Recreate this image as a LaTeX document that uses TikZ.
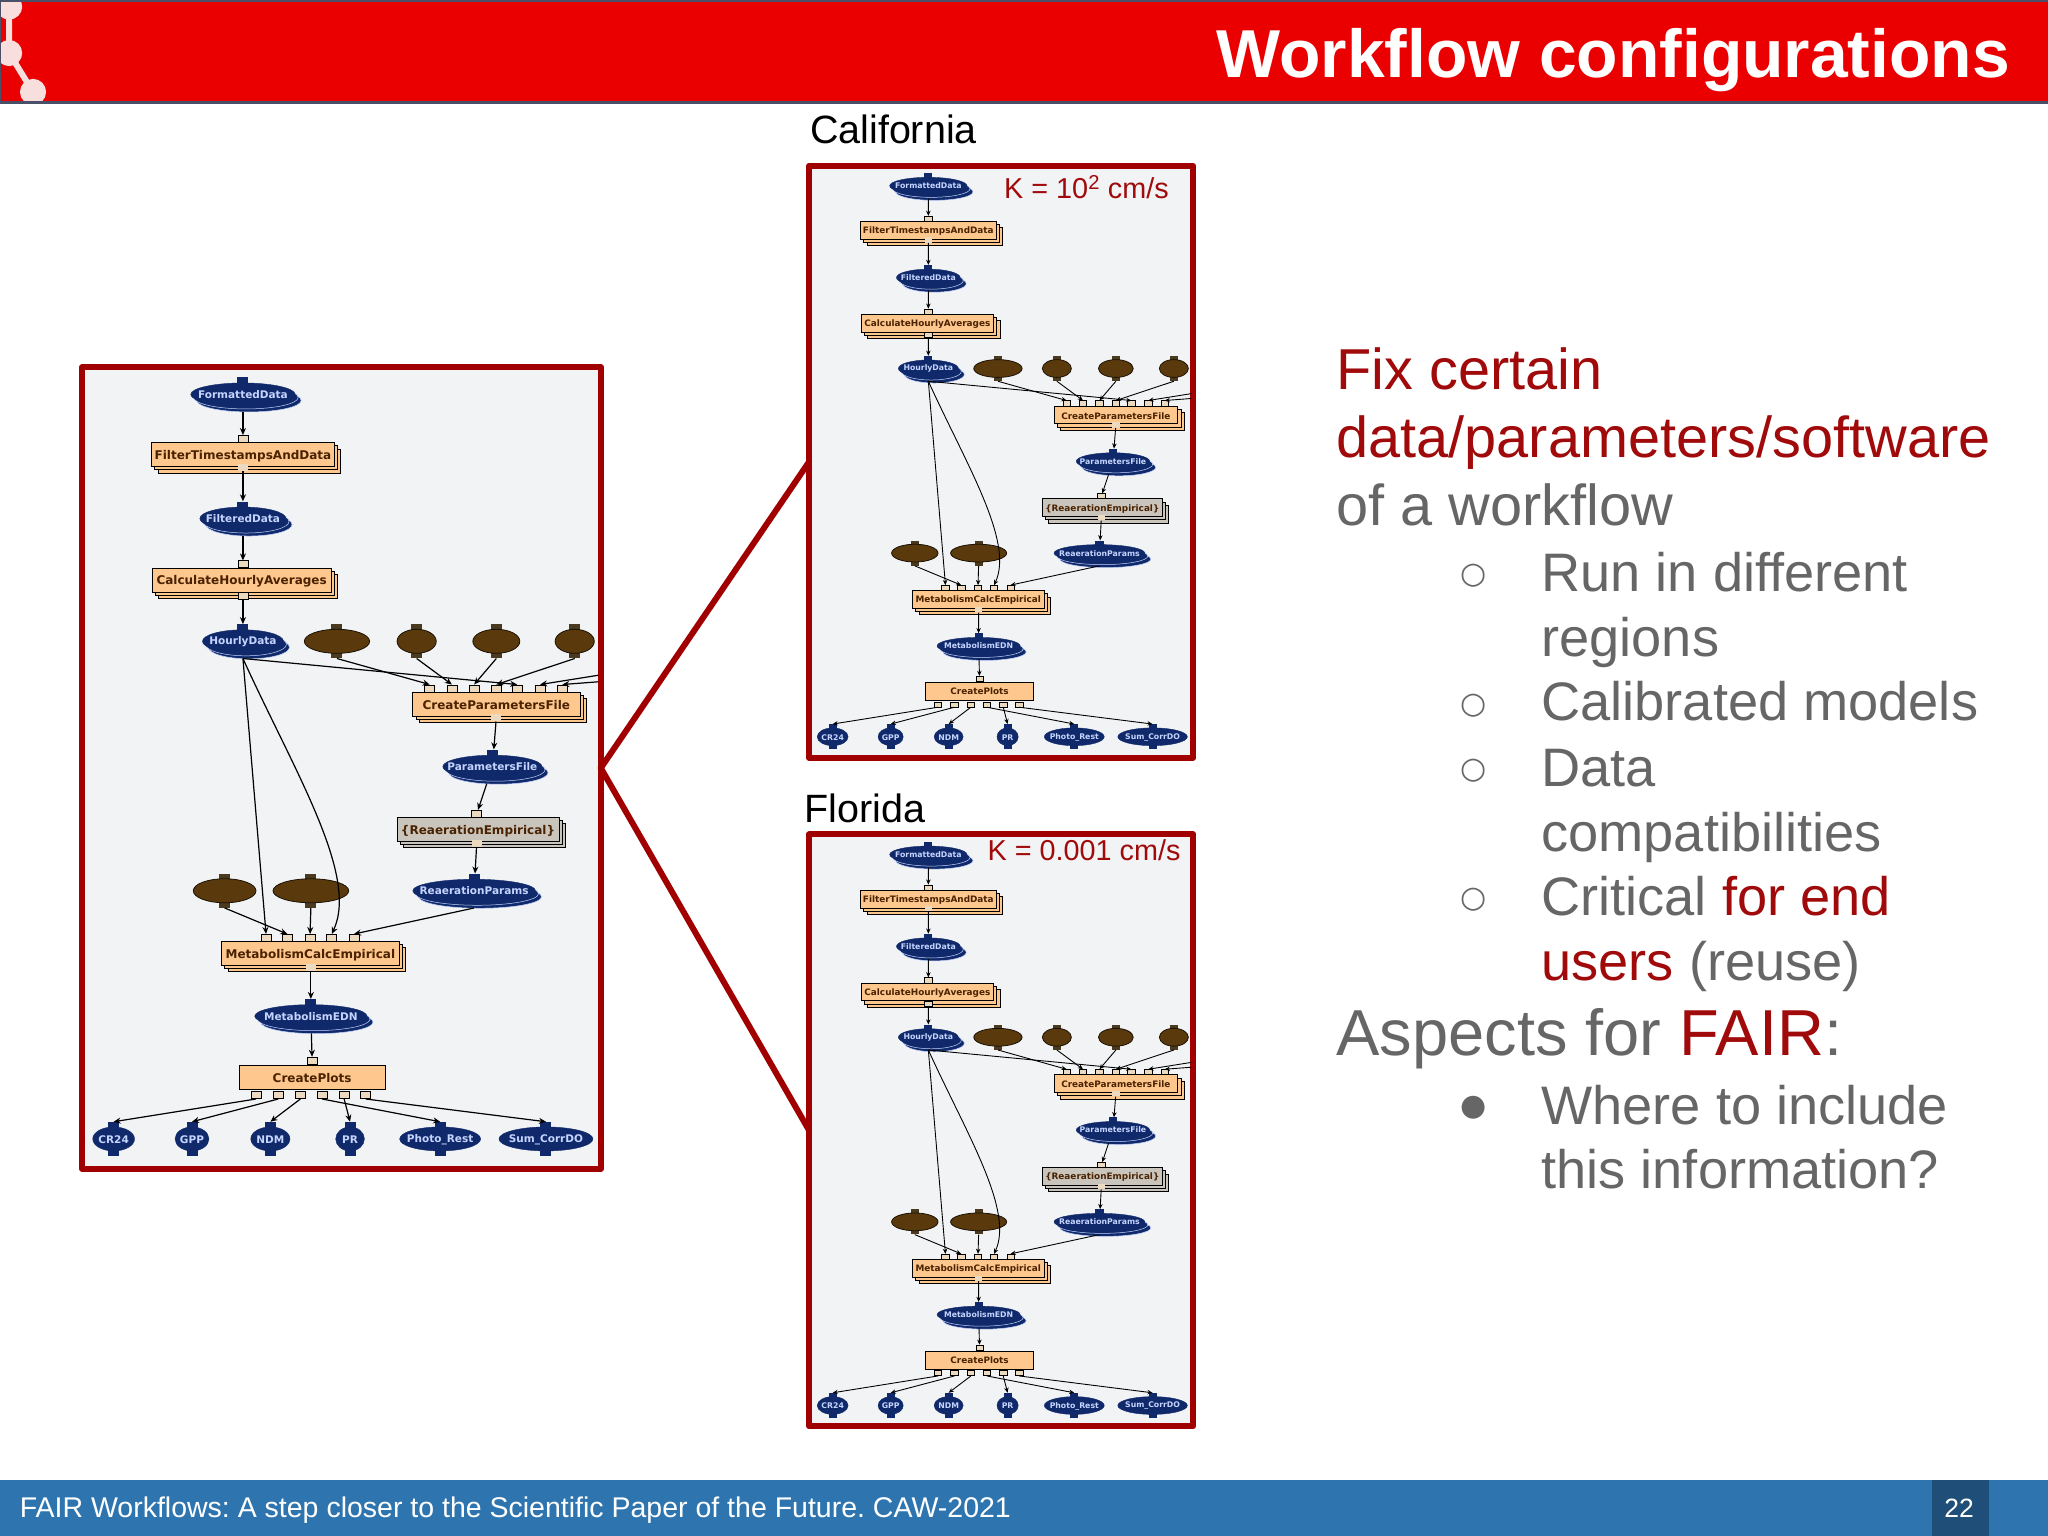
\documentclass[tikz,border=0pt]{standalone}
\usepackage{fontspec}
\setmainfont{Liberation Sans}
\newfontfamily\wffont{DejaVu Sans}
\usetikzlibrary{shapes.geometric,shadows,arrows.meta}
\definecolor{hdrred}{HTML}{EA0000}
\definecolor{hdrline}{HTML}{4A5068}
\definecolor{logopink}{HTML}{F9DEDE}
\definecolor{darkred}{HTML}{A00000}
\definecolor{txtred}{HTML}{A00A0A}
\definecolor{txtgrey}{HTML}{666666}
\definecolor{panelbg}{HTML}{F2F3F5}
\definecolor{footblue}{HTML}{2E75B0}
\definecolor{footdark}{HTML}{1F4E79}
\definecolor{navy}{HTML}{10296A}
\definecolor{datatxt}{HTML}{C5D5FF}
\definecolor{boxo}{HTML}{FDC78E}
\definecolor{boxg}{HTML}{C9C5BD}
\definecolor{boxtxt}{HTML}{4A2200}
\definecolor{porttan}{HTML}{EBD9C0}
\definecolor{brownnode}{HTML}{5A3A0C}
\definecolor{brownstem}{HTML}{4A3A20}
\tikzset{
  panel/.style={draw=darkred,fill=panelbg,line width=6pt,line join=round,inner sep=0pt,outer sep=0pt},
  zoomline/.style={draw=darkred,line width=6pt,line cap=round},
  stackbox/.style={draw=black,line width=.8pt,fill=#1,inner sep=0pt,
    double copy shadow={shadow xshift=3.2pt,shadow yshift=-3.2pt,fill=#1,draw=black,line width=.8pt}},
  flatbox/.style={draw=black,line width=.8pt,fill=boxo,inner sep=0pt},
  boxlabel/.style={text=boxtxt,font=\wffont\bfseries\fontsize{12}{12}\selectfont,inner sep=0pt},
  datalabel/.style={text=datatxt,font=\wffont\bfseries\fontsize{10.5}{12}\selectfont,inner sep=0pt},
  stemnavy/.style={fill=navy,draw=none,inner sep=0pt,minimum width=11pt,minimum height=34pt},
  stembrown/.style={fill=brownstem,draw=none,inner sep=0pt,minimum width=11pt,minimum height=34pt},
  collshape/.style={ellipse,fill=navy,draw=navy,inner sep=0pt,
    double copy shadow={shadow xshift=3pt,shadow yshift=-3pt,fill=navy,draw=datatxt,line width=.5pt}},
  plainshape/.style={ellipse,fill=navy,draw=navy,inner sep=0pt},
  brownshape/.style={ellipse,fill=brownnode,draw=black!70!brownnode,line width=.8pt,inner sep=0pt},
  portbox/.style={draw=black,line width=.6pt,fill=porttan,inner sep=0pt,minimum width=10pt,minimum height=7pt},
  body/.style={anchor=base west,inner sep=0pt,text=txtgrey,font=\fontsize{54.2}{60}\selectfont},
  bodyred/.style={anchor=base west,inner sep=0pt,text=txtred,font=\fontsize{57.7}{60}\selectfont},
  bodygrey/.style={anchor=base west,inner sep=0pt,text=txtgrey,font=\fontsize{57.7}{60}\selectfont},
  bulletmark/.style={anchor=center,inner sep=0pt,text=txtgrey,font=\wffont\fontsize{30}{30}\selectfont},
  regionlabel/.style={anchor=base west,inner sep=0pt,text=black,font=\fontsize{39.5}{40}\selectfont},
  klabel/.style={anchor=base east,inner sep=0pt,text=txtred,font=\fontsize{28.8}{30}\selectfont},
}
% name, x, y, half width, text
\newcommand{\collnode}[5]{%
  \node[stemnavy] (#1) at (#2,#3) {};
  \node[collshape,minimum width=2.612*#4 pt,minimum height=23pt] (#1e) at (#2,#3) {};
  \node[datalabel] (#1t) at (#2,#3) {#5};}
\newcommand{\plainnode}[5]{%
  \node[stemnavy] (#1) at (#2,#3) {};
  \node[plainshape,minimum width=2.612*#4 pt,minimum height=24pt] (#1e) at (#2,#3) {};
  \node[datalabel] (#1t) at (#2,#3+.5) {#5};}
\newcommand{\brownnode}[4]{%
  \node[stembrown] (#1) at (#2,#3) {};
  \node[brownshape,minimum width=2.612*#4 pt,minimum height=24pt] (#1e) at (#2,#3) {};}
% name, cx, cy, width, colour, text
\newcommand{\stackproc}[6]{%
  \node[stackbox=#5,minimum width=1.306*#4 pt,minimum height=24pt] (#1) at (#2,#3) {};
  \node[boxlabel] (#1t) at (#2,#3+1) {#6};}
\newcommand{\workflow}[2]{%
  \begin{scope}[wfedge/.style={draw=black,line width=#2*1.2pt,-{Stealth[length=7pt,width=6pt,scale=#2]}}]
  % processes
  \stackproc{#1filter}{186}{348}{140}{boxo}{FilterTimestampsAndData}
  \stackproc{#1calc}{185}{444}{137}{boxo}{CalculateHourlyAverages}
  \stackproc{#1cpf}{380}{539}{128}{boxo}{CreateParametersFile}
  \stackproc{#1rea}{366}{635}{124}{boxg}{\{ReaerationEmpirical\}}
  \stackproc{#1met}{237.6}{730}{136}{boxo}{MetabolismCalcEmpirical}
  \node[flatbox,minimum width=146pt,minimum height=24pt] (#1plots) at (239,825) {};
  \node[boxlabel] (#1plotst) at (239,825) {CreatePlots};
  % ports
  \node[portbox] (#1filterin) at (186,336) {};
  \node[portbox,draw=none] (#1filterout) at (186,358) {};
  \node[portbox] (#1calcin) at (186,432) {};
  \node[portbox] (#1calcout) at (186,456) {};
  \foreach \i/\xx in {1/329,2/346,3/363,4/380,5/396,6/413.5,7/430.5}{
    \node[portbox] (#1cpfin\i) at (\xx,527) {};}
  \node[portbox,draw=none] (#1cpfout) at (380,549.5) {};
  \node[portbox] (#1reain) at (365,623) {};
  \node[portbox,draw=none] (#1reaout) at (365,645.5) {};
  \foreach \i/\xx in {1/203.7,2/220,3/237.4,4/254,5/271}{
    \node[portbox] (#1metin\i) at (\xx,718) {};}
  \node[portbox,draw=none] (#1metout) at (238,740.5) {};
  \node[portbox] (#1plotsin) at (239,812) {};
  \foreach \i/\xx in {1/196,2/213,3/230,4/246.6,5/263.5,6/280}{
    \node[portbox] (#1plotsout\i) at (\xx,838.5) {};}
  % data
  \collnode{#1fd}{186}{302}{40}{FormattedData}
  \collnode{#1fil}{186}{397}{33}{FilteredData}
  \collnode{#1hd}{186}{491}{31}{HourlyData}
  \collnode{#1pf}{377}{587}{38}{ParametersFile}
  \collnode{#1rp}{363}{682}{47}{ReaerationParams}
  \collnode{#1edn}{238}{778}{43}{MetabolismEDN}
  \brownnode{#1b1}{258}{491}{25}
  \brownnode{#1b2}{319}{491}{15}
  \brownnode{#1b3}{380}{491}{18}
  \brownnode{#1b4}{440}{491}{15}
  \brownnode{#1b5}{172}{682}{24}
  \brownnode{#1b6}{238}{682}{29}
  \plainnode{#1o1}{87}{872}{16}{CR24}
  \plainnode{#1o2}{147}{872}{13}{GPP}
  \plainnode{#1o3}{207}{872}{15}{NDM}
  \plainnode{#1o4}{268}{872}{11}{PR}
  \plainnode{#1o5}{337}{872}{31}{Photo\_Rest}
  \plainnode{#1o6}{418}{872}{36}{Sum\_CorrDO}
  \coordinate (#1fa) at (458,517);
  \coordinate (#1fb) at (458,522);
  % edges
  \draw[wfedge] (#1fd) -- (#1filterin);
  \draw[wfedge] (#1filterout) -- (#1fil);
  \draw[wfedge] (#1fil) -- (#1calcin);
  \draw[wfedge] (#1calcout) -- (#1hd);
  \draw[wfedge] (#1hd.south) -- (#1cpfin5.north);
  \draw[wfedge] (#1b1.south) -- (#1cpfin1.north);
  \draw[wfedge] (#1b2.south) -- (#1cpfin2.north);
  \draw[wfedge] (#1b3.south) -- (#1cpfin3.north);
  \draw[wfedge] (#1b4.south) -- (#1cpfin4.north);
  \draw[wfedge] (#1fa) -- (#1cpfin6.north);
  \draw[wfedge] (#1fb) -- (#1cpfin7.north);
  \draw[wfedge] (#1cpfout) -- (#1pf);
  \draw[wfedge] (#1pf) -- (#1reain);
  \draw[wfedge] (#1reaout) -- (#1rp);
  \draw[wfedge] (#1hd.south) -- (#1metin1.north);
  \draw[wfedge] (#1hd.south) .. controls (225,590) and (275,670) .. (#1metin4.north);
  \draw[wfedge] (#1b5.south) -- (#1metin2.north);
  \draw[wfedge] (#1b6.south) -- (#1metin3.north);
  \draw[wfedge] (#1rp.south) -- (#1metin5.north);
  \draw[wfedge] (#1metout) -- (#1edn);
  \draw[wfedge] (#1edn) -- (#1plotsin);
  \draw[wfedge] (#1plotsout1.south) -- (#1o1.north);
  \draw[wfedge] (#1plotsout2.south) -- (#1o2.north);
  \draw[wfedge] (#1plotsout3.south) -- (#1o3.north);
  \draw[wfedge] (#1plotsout4.south) -- (#1o5.north);
  \draw[wfedge] (#1plotsout5.south) -- (#1o4.north);
  \draw[wfedge] (#1plotsout6.south) -- (#1o6.north);
  \end{scope}}
\begin{document}
\begin{tikzpicture}[x=1.30612pt,y=-1.30612pt]
\frenchspacing
\useasboundingbox (0,0) rectangle (1568,1176);
\fill[white] (0,0) rectangle (1568,1176);
% header
\begin{scope}
  \clip (0,0) rectangle (1568,78);
  \fill[hdrred] (0,0) rectangle (1568,78);
  \draw[logopink,line width=6pt] (7,5) -- (7,40.6) -- (25.3,70.4);
  \fill[logopink] (7,5) circle (10) (7,40.6) circle (10) (25.3,70.4) circle (10);
\end{scope}
\draw[hdrline,line width=2pt] (0,.5) -- (1568,.5);
\draw[hdrline,line width=2.4pt] (0,78.5) -- (1568,78.5);
\draw[hdrline,line width=1.6pt] (.3,0) -- (.3,78);
\node[anchor=base east,inner sep=0pt,text=white,font=\bfseries\fontsize{67.8}{70}\selectfont] (title) at (1539,59) {Workflow configurations};
% footer
\fill[footblue] (0,1133) rectangle (1568,1176);
\fill[footdark] (1479,1133) rectangle (1523,1176);
\node[anchor=base west,inner sep=0pt,text=white,font=\fontsize{28.5}{30}\selectfont] (foot) at (15,1162) {FAIR Workflows: A step closer to the Scientific Paper of the Future. CAW-2021};
\node[anchor=base,inner sep=0pt,text=white,font=\fontsize{26.5}{28}\selectfont] (pageno) at (1500,1162) {22};
% panels
\node[panel,minimum width=518.5pt,minimum height=802pt] (leftframe) at (261.5,588) {};
\node[panel,minimum width=384pt,minimum height=592pt] (calframe) at (766.5,353.5) {};
\node[panel,minimum width=384pt,minimum height=592pt] (floframe) at (766.5,865.5) {};
\draw[zoomline] (leftframe.east) -- (calframe.west);
\draw[zoomline] (leftframe.east) -- (floframe.west);
\workflow{L}{1}
\begin{scope}[shift={(619,126)},scale=.74,shift={(-62,-280)},transform shape]
\workflow{C}{.74}
\end{scope}
\begin{scope}[shift={(619,638)},scale=.74,shift={(-62,-280)},transform shape]
\workflow{F}{.74}
\end{scope}
\node[regionlabel] (calname) at (620,110) {California};
\node[regionlabel] (floname) at (616,630) {Florida};
\node[klabel] (kc) at (895,152) {K = 10\textsuperscript{2} cm/s};
\node[klabel] (kf) at (904,659) {K = 0.001 cm/s};
% text
\node[bodyred] (t1) at (1023,298) {Fix certain};
\node[bodyred] (t2) at (1023,350) {data/parameters/software};
\node[bodygrey] (t3) at (1023,402) {of a workflow};
\node[body] (t4) at (1180,453) {Run in different};
\node[body] (t5) at (1180,503) {regions};
\node[body] (t6) at (1180,552) {Calibrated models};
\node[body] (t7) at (1180,602) {Data};
\node[body] (t8) at (1180,652) {compatibilities};
\node[body] (t9) at (1180,701) {Critical \textcolor{txtred}{for end}};
\node[body] (t10) at (1180,751) {\textcolor{txtred}{users} (reuse)};
\node[body,font=\fontsize{65}{66}\selectfont] (t11) at (1023,808) {Aspects for \textcolor{txtred}{FAIR}:};
\node[body] (t12) at (1180,861) {Where to include};
\node[body] (t13) at (1180,910) {this information?};
\node[bulletmark] (b1) at (1128,441) {○};
\node[bulletmark] (b2) at (1128,540) {○};
\node[bulletmark] (b3) at (1128,590) {○};
\node[bulletmark] (b4) at (1128,689) {○};
\node[bulletmark] (b5) at (1128,848) {●};
\end{tikzpicture}
\end{document}
